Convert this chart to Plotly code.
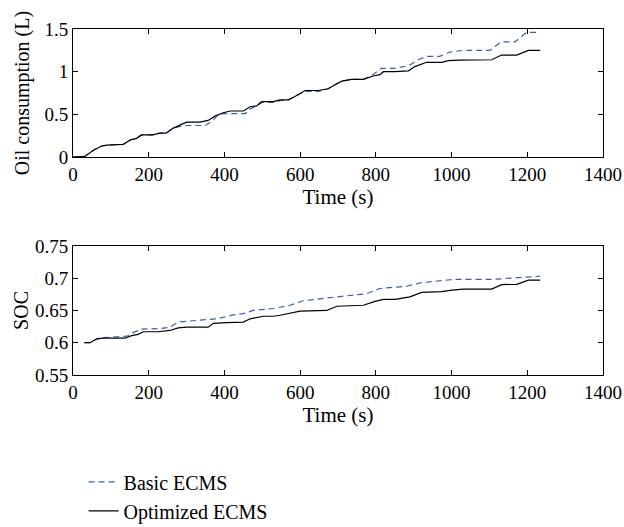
import plotly.graph_objects as go

# Oil consumption (L)
oil_opt_t = [0, 32, 54, 76, 89, 133, 151, 168, 181, 211, 229, 246, 265, 300, 335, 357, 375, 397, 415, 450, 468, 485, 498, 529, 547, 569, 586, 613, 648, 674, 697, 710, 736, 767, 793, 811, 820, 851, 886, 903, 934, 974, 991, 1021, 1106, 1132, 1172, 1203, 1234]
oil_opt_v = [0, 0.01, 0.08, 0.13, 0.14, 0.15, 0.20, 0.22, 0.26, 0.26, 0.28, 0.28, 0.34, 0.41, 0.41, 0.43, 0.48, 0.52, 0.54, 0.54, 0.59, 0.60, 0.65, 0.65, 0.67, 0.67, 0.71, 0.78, 0.78, 0.80, 0.86, 0.89, 0.91, 0.91, 0.95, 0.965, 1.0, 1.0, 1.01, 1.06, 1.11, 1.11, 1.13, 1.135, 1.14, 1.195, 1.195, 1.25, 1.25]
oil_basic_t = [0, 32, 54, 76, 89, 133, 151, 168, 181, 211, 229, 246, 265, 295, 350, 370, 380, 397, 415, 455, 470, 485, 500, 530, 547, 569, 586, 613, 648, 674, 697, 710, 736, 767, 790, 815, 851, 886, 912, 934, 969, 996, 1031, 1101, 1132, 1168, 1198, 1234]
oil_basic_v = [0, 0.01, 0.08, 0.13, 0.14, 0.15, 0.20, 0.22, 0.26, 0.26, 0.28, 0.28, 0.34, 0.37, 0.37, 0.43, 0.48, 0.51, 0.51, 0.51, 0.57, 0.60, 0.64, 0.64, 0.66, 0.67, 0.71, 0.77, 0.77, 0.80, 0.86, 0.89, 0.91, 0.91, 0.96, 1.04, 1.04, 1.07, 1.14, 1.18, 1.18, 1.23, 1.25, 1.25, 1.35, 1.35, 1.46, 1.46]

# SOC
soc_opt_t = [30, 45, 63, 80, 137, 155, 172, 186, 225, 256, 278, 300, 357, 371, 406, 450, 468, 490, 503, 529, 547, 600, 670, 697, 767, 798, 820, 851, 890, 921, 974, 996, 1031, 1106, 1132, 1172, 1203, 1234]
soc_opt_v = [0.6, 0.6, 0.606, 0.607, 0.607, 0.611, 0.613, 0.617, 0.617, 0.619, 0.623, 0.624, 0.624, 0.630, 0.631, 0.632, 0.637, 0.640, 0.641, 0.641, 0.6425, 0.649, 0.650, 0.6565, 0.658, 0.664, 0.667, 0.667, 0.671, 0.678, 0.679, 0.681, 0.683, 0.683, 0.690, 0.6905, 0.697, 0.697]
soc_basic_t = [30, 45, 63, 80, 142, 160, 181, 229, 256, 278, 335, 379, 423, 450, 476, 529, 573, 608, 697, 732, 776, 811, 881, 921, 978, 1005, 1106, 1172, 1234]
soc_basic_v = [0.6, 0.6, 0.606, 0.608, 0.610, 0.616, 0.621, 0.622, 0.624, 0.632, 0.635, 0.637, 0.643, 0.645, 0.650, 0.653, 0.658, 0.665, 0.671, 0.6735, 0.676, 0.684, 0.6875, 0.693, 0.696, 0.698, 0.698, 0.700, 0.703]

x_ticks = [0, 200, 400, 600, 800, 1000, 1200, 1400]
oil_ticks = [0, 0.5, 1, 1.5]
oil_ticktext = ["0", "0.5", "1", "1.5"]
soc_ticks = [0.55, 0.6, 0.65, 0.7, 0.75]
soc_ticktext = ["0.55", "0.6", "0.65", "0.7", "0.75"]

BLUE = "#3b5cb8"
FONT = "Liberation Serif"

fig = go.Figure()
fig.add_trace(go.Scatter(x=oil_basic_t, y=oil_basic_v, mode="lines", name="Basic ECMS",
                         line=dict(color=BLUE, width=1.2, dash="6px,4px"), xaxis="x", yaxis="y"))
fig.add_trace(go.Scatter(x=oil_opt_t, y=oil_opt_v, mode="lines", name="Optimized ECMS",
                         line=dict(color="black", width=1.2), xaxis="x", yaxis="y"))
fig.add_trace(go.Scatter(x=soc_basic_t, y=soc_basic_v, mode="lines", name="Basic ECMS", showlegend=False,
                         line=dict(color=BLUE, width=1.2, dash="6px,4px"), xaxis="x2", yaxis="y2"))
fig.add_trace(go.Scatter(x=soc_opt_t, y=soc_opt_v, mode="lines", name="Optimized ECMS", showlegend=False,
                         line=dict(color="black", width=1.2), xaxis="x2", yaxis="y2"))

axis_common = dict(showgrid=False, zeroline=False, showline=True, linecolor="black", linewidth=1,
                   mirror="ticks", ticks="inside", ticklen=5, tickcolor="black",
                   ticklabeloverflow="allow", automargin=False,
                   tickfont=dict(family=FONT, size=19, color="black"))
ytitle_font = dict(family=FONT, size=20, color="black")
xtitle_font = dict(family=FONT, size=21, color="black")

fig.update_layout(
    width=624, height=527,
    paper_bgcolor="white", plot_bgcolor="white",
    margin=dict(l=73, r=21, t=29, b=152.3, autoexpand=False),
    font=dict(family=FONT, size=19, color="black"),
    xaxis=dict(domain=[0, 1], anchor="y", range=[0, 1400], tickvals=x_ticks,
               title=dict(text="Time (s)", standoff=2, font=xtitle_font), **axis_common),
    yaxis=dict(domain=[0.6297, 1], anchor="x", range=[0, 1.5], tickvals=oil_ticks, ticktext=oil_ticktext,
               title=dict(text="Oil consumption (L)", standoff=9, font=ytitle_font), **axis_common),
    xaxis2=dict(domain=[0, 1], anchor="y2", range=[0, 1400], tickvals=x_ticks,
                title=dict(text="Time (s)", standoff=2, font=xtitle_font), **axis_common),
    yaxis2=dict(domain=[0, 0.3732], anchor="x2", range=[0.55, 0.75], tickvals=soc_ticks, ticktext=soc_ticktext,
                title=dict(text="SOC", standoff=0, font=ytitle_font), **axis_common),
    showlegend=True,
    legend=dict(x=0.02, y=-0.2525, xanchor="left", yanchor="top", bgcolor="rgba(0,0,0,0)",
                font=dict(family=FONT, size=20, color="black"), tracegroupgap=0, itemwidth=30),
)

# remove the browser's default page margin / scrollbars so the 624x527 figure fills the window
fig.write_html("out.html",
               config={"displayModeBar": False},
               post_script="document.body.style.margin='0';document.body.style.overflow='hidden';")
